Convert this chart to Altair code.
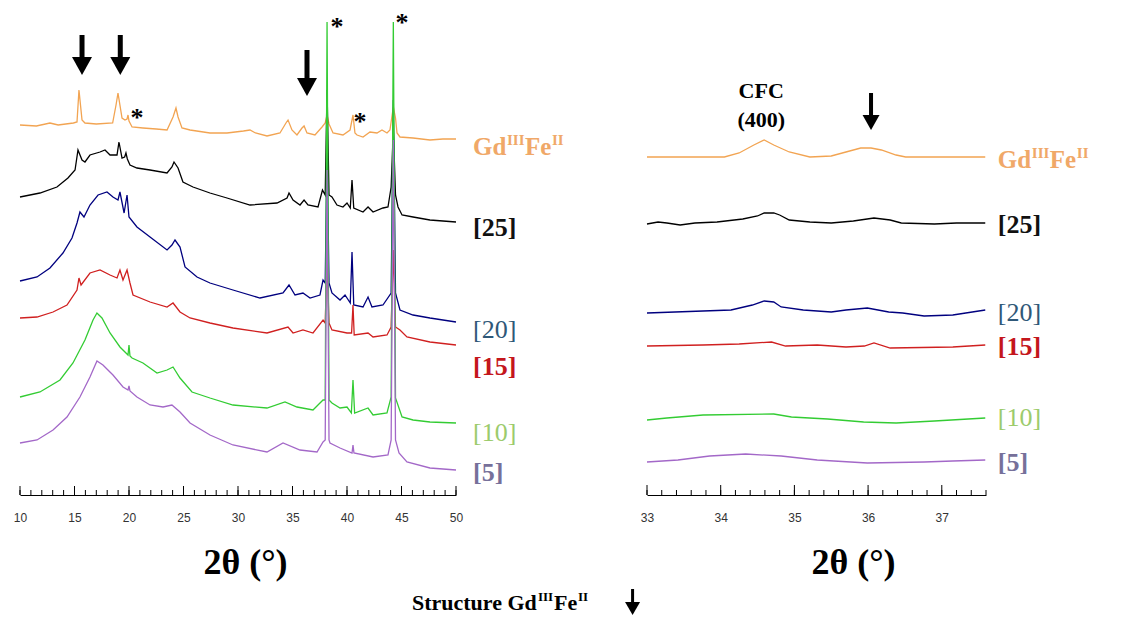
import altair as alt
import pandas as pd

SERIF = "Liberation Serif"
SANS = "Liberation Sans"

NAMES = ["GdIIIFeII", "[25]", "[20]", "[15]", "[10]", "[5]"]
LINE_COLORS = ["#F2A452", "#000000", "#00007F", "#D02020", "#33CC33", "#A368C8"]
LABEL_COLORS = ["#F0A868", "#111111", "#2F5878", "#C4161C", "#9CCB6C", "#76709A"]
LABEL_BOLD = [True, True, False, True, False, True]

# ---------------- Left panel: 2θ 10-50°, stacked intensity (a.u.) ----------------
GD_L = [(10.0, 370), (11.5, 369), (12.75, 372), (13.5, 370), (14.9, 372), (15.23, 373), (15.41, 405),
        (15.69, 375), (15.96, 372), (17.0, 371), (18.5, 372), (18.81, 390), (18.99, 402), (19.36, 377),
        (19.63, 375), (19.82, 376), (19.91, 380), (20.0, 374), (20.28, 368), (21.28, 367), (22.5, 366),
        (23.49, 365), (24.04, 378), (24.31, 387), (24.5, 378), (24.86, 367), (25.6, 365), (27.43, 362),
        (28.99, 362), (30.5, 364), (31.1, 365), (31.6, 362), (32.66, 359), (33.85, 362), (34.4, 372),
        (34.59, 375), (34.95, 365), (35.41, 360), (35.87, 367), (36.06, 369), (36.33, 362), (37.06, 360),
        (37.71, 368), (38.0, 372), (38.17, 380), (38.35, 371), (38.72, 362), (39.63, 360), (40.28, 365),
        (40.55, 380), (40.73, 362), (40.92, 360), (41.47, 358), (42.11, 363), (42.75, 362), (43.21, 365),
        (43.67, 362), (43.94, 365), (44.25, 388), (44.45, 377), (44.59, 362), (44.86, 358), (46.06, 357),
        (47.61, 355), (48.8, 356), (50.0, 356)]
S25_L = [(10.0, 298), (11.83, 302), (13.39, 308), (14.4, 317), (15.05, 325), (15.32, 345), (15.69, 335),
         (15.96, 333), (16.42, 340), (17.34, 343), (17.8, 345), (18.26, 340), (18.9, 340), (19.08, 353),
         (19.36, 337), (19.6, 338), (19.72, 342), (19.85, 336), (20.09, 330), (20.73, 327), (21.93, 325),
         (23.49, 322), (23.94, 328), (24.13, 333), (24.5, 327), (24.95, 313), (25.87, 308), (27.43, 302),
         (28.99, 297), (31.1, 290), (33.58, 292), (34.5, 297), (34.68, 302), (35.05, 295), (35.69, 290),
         (36.06, 295), (36.42, 290), (37.34, 288), (37.75, 305), (38.0, 300), (38.17, 405), (38.35, 300),
         (38.62, 298), (39.08, 290), (39.63, 288), (40.0, 292), (40.3, 287), (40.46, 315), (40.62, 287),
         (41.47, 283), (41.93, 288), (42.39, 283), (43.3, 287), (43.76, 288), (44.05, 308), (44.25, 365),
         (44.45, 300), (44.68, 288), (45.05, 280), (46.06, 278), (47.61, 275), (50.0, 273)]
S20_L = [(10.0, 214), (11.56, 218), (12.75, 227), (13.94, 242), (14.77, 257), (15.23, 272), (15.5, 283),
         (15.87, 278), (16.42, 290), (17.16, 300), (17.98, 303), (18.53, 298), (18.99, 295), (19.17, 303),
         (19.55, 282), (19.82, 300), (20.0, 278), (20.73, 268), (21.93, 258), (23.49, 245), (23.94, 250),
         (24.22, 255), (24.68, 248), (25.14, 228), (26.24, 218), (27.43, 212), (29.54, 205), (32.02, 197),
         (34.13, 202), (34.68, 210), (35.23, 200), (35.96, 202), (36.61, 197), (37.52, 200), (37.8, 215),
         (38.0, 212), (38.17, 345), (38.35, 212), (38.62, 202), (39.36, 195), (39.82, 200), (40.3, 192),
         (40.46, 243), (40.62, 190), (41.47, 188), (41.93, 198), (42.29, 188), (43.3, 190), (44.05, 202),
         (44.25, 395), (44.45, 202), (44.86, 185), (46.06, 180), (47.61, 177), (50.0, 173)]
S15_L = [(10.0, 177), (11.56, 178), (13.03, 183), (14.31, 190), (15.23, 205), (15.41, 217), (15.6, 210),
         (16.42, 222), (17.34, 225), (18.26, 220), (18.9, 217), (19.17, 225), (19.45, 215), (19.82, 225),
         (20.09, 212), (20.37, 200), (21.93, 193), (23.49, 188), (24.04, 192), (24.68, 183), (25.6, 177),
         (27.43, 172), (29.54, 167), (32.66, 162), (34.59, 168), (35.05, 162), (35.96, 165), (36.88, 162),
         (37.8, 175), (38.0, 172), (38.17, 235), (38.35, 172), (38.62, 165), (40.0, 162), (40.42, 162),
         (40.55, 190), (40.66, 160), (41.93, 162), (42.39, 158), (43.67, 160), (44.05, 168), (44.25, 245),
         (44.45, 168), (44.86, 165), (45.5, 158), (47.61, 153), (50.0, 150)]
S10_L = [(10.0, 98), (11.83, 103), (13.67, 115), (14.86, 132), (15.96, 155), (16.7, 175), (17.06, 182),
         (17.52, 177), (18.26, 162), (19.17, 148), (19.91, 140), (20.0, 150), (20.09, 139), (20.28, 137),
         (21.28, 132), (22.57, 122), (23.49, 125), (24.04, 128), (24.68, 117), (25.78, 103), (27.43, 97),
         (29.54, 90), (32.66, 87), (34.31, 93), (35.41, 88), (36.88, 85), (37.8, 95), (38.0, 95),
         (38.17, 473), (38.35, 95), (38.62, 92), (39.36, 87), (40.0, 88), (40.4, 82), (40.55, 115),
         (40.7, 82), (41.93, 87), (42.39, 80), (43.67, 82), (44.05, 98), (44.25, 473), (44.45, 97),
         (45.05, 78), (46.06, 75), (47.61, 73), (50.0, 72)]
S5_L = [(10.0, 52), (11.56, 55), (13.03, 65), (14.31, 78), (15.5, 98), (16.42, 118), (17.06, 134),
        (17.61, 130), (18.53, 120), (19.45, 108), (19.91, 105), (20.0, 109), (20.09, 104), (20.73, 98),
        (21.93, 90), (23.12, 88), (23.94, 90), (24.68, 83), (25.6, 72), (27.43, 60), (29.54, 50),
        (32.66, 43), (34.13, 52), (35.69, 45), (37.25, 43), (37.8, 53), (38.0, 55), (38.17, 325),
        (38.35, 55), (38.44, 52), (39.36, 47), (40.46, 42), (40.55, 50), (40.64, 42), (42.39, 38),
        (43.76, 40), (44.05, 55), (44.25, 355), (44.45, 55), (44.77, 42), (45.5, 33), (47.61, 27),
        (50.0, 25)]

# ---------------- Right panel: 2θ 33-37.6° ----------------
GD_R = [(33.0, 338), (34.05, 338), (34.25, 342), (34.45, 350), (34.59, 355), (34.72, 350), (34.93, 343),
        (35.21, 338), (35.5, 339), (35.7, 343), (35.9, 347), (36.04, 347), (36.18, 345), (36.38, 340),
        (36.51, 338), (37.59, 338)]
S25_R = [(33.0, 271), (33.15, 273), (33.27, 272), (33.45, 270), (33.65, 272), (33.95, 273), (34.3, 276),
         (34.5, 279), (34.59, 282), (34.72, 282), (34.8, 280), (34.93, 275), (35.21, 273), (35.5, 272),
         (35.8, 274), (36.08, 277), (36.3, 275), (36.45, 272), (36.9, 271), (37.2, 272), (37.59, 272)]
S20_R = [(33.0, 182), (33.76, 184), (34.14, 185), (34.43, 190), (34.59, 194), (34.72, 193), (34.82, 188),
         (35.12, 185), (35.5, 183), (35.7, 185), (35.99, 187), (36.28, 183), (36.47, 182), (36.76, 179),
         (37.15, 180), (37.59, 185)]
S15_R = [(33.0, 149), (33.76, 150), (34.25, 151), (34.69, 153), (34.88, 149), (35.31, 150), (35.7, 148),
         (35.95, 149), (36.08, 152), (36.3, 147), (37.15, 148), (37.59, 150)]
S10_R = [(33.0, 75), (33.27, 77), (33.76, 80), (34.72, 81), (34.96, 78), (35.45, 76), (35.94, 73),
         (36.38, 72), (36.9, 74), (37.59, 77)]
S5_R = [(33.0, 33), (33.42, 35), (33.85, 39), (34.34, 41), (34.82, 39), (35.31, 35), (35.99, 32),
        (36.76, 33), (37.15, 34), (37.59, 35)]

LEFT = [GD_L, S25_L, S20_L, S15_L, S10_L, S5_L]
RIGHT = [GD_R, S25_R, S20_R, S15_R, S10_R, S5_R]

# label / annotation anchors (2θ, intensity)
LEFT_LABEL_THETA = 51.56
LEFT_LABEL_Y = [348, 267, 165, 128, 62, 22]
RIGHT_LABEL_THETA = 37.76
RIGHT_LABEL_Y = [335, 270, 182, 148, 77, 32]

LEFT_MAJOR = [10, 15, 20, 25, 30, 35, 40, 45, 50]
LEFT_MINOR = list(range(10, 51))
RIGHT_MAJOR = [33, 34, 35, 36, 37]
RIGHT_MINOR = [33.0, 33.2, 33.4, 33.6, 33.8, 34.0, 34.2, 34.4, 34.6, 34.8, 35.0, 35.2, 35.4, 35.6,
               35.8, 36.0, 36.2, 36.4, 36.6, 36.8, 37.0, 37.2, 37.4, 37.6]

H = 487
YS = alt.Scale(domain=[0, H], nice=False, zero=False)
Y = alt.Y("val:Q", scale=YS, axis=None)


def make_x(domain, values, title_x):
    return alt.X("theta:Q", scale=alt.Scale(domain=domain, nice=False, zero=False),
                 axis=alt.Axis(values=values, ticks=False, grid=False, domainColor="#000", domainWidth=1,
                               labelFont=SANS, labelFontSize=12, labelColor="#333", labelPadding=17,
                               labelFlush=False, labelOverlap=False, format="d",
                               title="2θ (°)", titleFont=SERIF, titleFontSize=36, titleFontWeight="bold",
                               titleColor="#000", titlePadding=22, titleX=title_x))


XL = make_x([10, 50], LEFT_MAJOR, 225)
XR = make_x([33, 37.6], RIGHT_MAJOR, 206)


def line_layer(points, color, X):
    df = pd.DataFrame(points, columns=["theta", "val"])
    return alt.Chart(df).mark_line(color=color, strokeWidth=1.3).encode(x=X, y=Y)


def tick_layer(major, minor, X, major_len, minor_len):
    df = pd.DataFrame({"theta": list(major) + list(minor),
                       "y0": [0] * (len(major) + len(minor)),
                       "y1": [major_len] * len(major) + [minor_len] * len(minor)})
    return alt.Chart(df).mark_rule(color="#000", strokeWidth=1).encode(
        x=X, y=alt.Y("y0:Q", scale=YS, axis=None), y2="y1:Q")


def rich_text(theta, val, parts, color, X, bold=True, base=25):
    df = pd.DataFrame({"theta": [theta], "val": [val]})
    out = []
    for text, size, dx, rise in parts:
        out.append(alt.Chart(df).mark_text(
            text=text, font=SERIF, fontSize=size, fontWeight="bold" if bold else "normal",
            color=color, align="left", baseline="alphabetic", dx=dx, dy=round(0.34 * base) - rise
        ).encode(x=X, y=Y))
    return out


def arrow_layers(thetas, tops, tips, X, w, h, shaft):
    df = pd.DataFrame({"theta": thetas, "top": tops, "tip": tips})
    df["head"] = df["tip"] + h / 2.0
    df["shaft_end"] = df["tip"] + h * 0.6
    r = h / float(w)
    rule = alt.Chart(df).mark_rule(strokeWidth=shaft, color="#000").encode(
        x=X, y=alt.Y("top:Q", scale=YS, axis=None), y2="shaft_end:Q")
    head = alt.Chart(df).mark_point(shape="M-1,-%.3fL1,-%.3fL0,%.3fZ" % (r, r, r), filled=True,
                                    size=w * w, color="#000", opacity=1, strokeWidth=0).encode(
        x=X, y=alt.Y("head:Q", scale=YS, axis=None))
    return [rule, head]


def star_layer(thetas, vals, X):
    df = pd.DataFrame({"theta": thetas, "val": vals})
    return alt.Chart(df).mark_text(text="*", font=SERIF, fontWeight="bold", fontSize=26,
                                   color="#000", baseline="alphabetic", dy=13).encode(x=X, y=Y)


def series_labels(theta, ys, X):
    out = []
    for i, name in enumerate(NAMES):
        if i == 0:
            parts = [("Gd", 25, 0, 0), ("III", 15, 34, 10), ("Fe", 25, 52, 0), ("II", 15, 79, 10)]
        else:
            parts = [(name, 26, 0, 0)]
        out += rich_text(theta, ys[i], parts, LABEL_COLORS[i], X, bold=LABEL_BOLD[i], base=25)
    return out


# ---------------- build left panel ----------------
left_layers = [tick_layer(LEFT_MAJOR, LEFT_MINOR, XL, 9, 5)]
for pts, col in zip(LEFT, LINE_COLORS):
    left_layers.append(line_layer(pts, col, XL))
left_layers += series_labels(LEFT_LABEL_THETA, LEFT_LABEL_Y, XL)
left_layers += arrow_layers([15.69, 19.2], [460, 460], [420, 420], XL, 20, 18, 5)
left_layers += arrow_layers([36.33], [445], [399], XL, 20, 18, 5)
left_layers.append(star_layer([20.73, 41.19, 39.08, 45.05], [382, 378, 473, 477], XL))
# bottom legend text
left_layers += rich_text(45.96, -108, [("Structure Gd", 22, 0, 0), ("III", 13, 126, 9),
                                       ("Fe", 22, 142, 0), ("II", 13, 166, 9)], "#000", XL, base=22)
left_layers += arrow_layers([66.2], [-94], [-120], XL, 15, 13, 3)

# ---------------- build right panel ----------------
right_layers = [tick_layer(RIGHT_MAJOR, RIGHT_MINOR, XR, 10, 5)]
for pts, col in zip(RIGHT, LINE_COLORS):
    right_layers.append(line_layer(pts, col, XR))
right_layers += series_labels(RIGHT_LABEL_THETA, RIGHT_LABEL_Y, XR)
cfc = pd.DataFrame({"theta": [34.55, 34.55], "val": [404, 375], "txt": ["CFC", "(400)"]})
right_layers.append(alt.Chart(cfc).mark_text(font=SERIF, fontWeight="bold", fontSize=22, color="#000",
                                             align="center", baseline="middle").encode(
    x=XR, y=Y, text="txt:N"))
right_layers += arrow_layers([36.04], [402], [365], XR, 17, 15, 4)

left = alt.layer(*left_layers).properties(width=436, height=H)
right = alt.layer(*right_layers).properties(width=339, height=H)

chart = alt.hconcat(left, right, spacing=191, bounds="flush").properties(
    padding={"left": 5, "top": 0, "right": 0, "bottom": 0},
    background="white",
).configure_view(stroke=None)

chart.save("out.html", embed_options={"renderer": "svg", "actions": False})
